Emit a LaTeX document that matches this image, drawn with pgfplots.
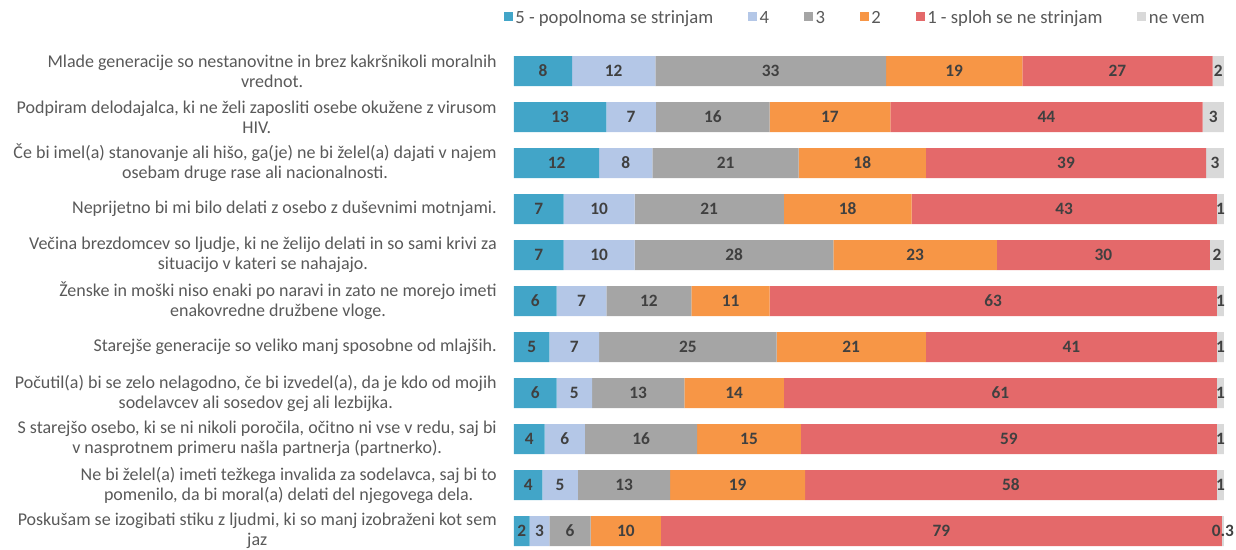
\documentclass[border=0pt]{standalone}
\usepackage{pgfplots}
\pgfplotsset{compat=1.18}
\usepackage{fontspec}
\setmainfont{Carlito}
\usetikzlibrary{calc}
\definecolor{c5}{RGB}{66,165,200}
\definecolor{c4}{RGB}{180,199,231}
\definecolor{c3}{RGB}{165,165,165}
\definecolor{c2}{RGB}{247,150,70}
\definecolor{c1}{RGB}{228,105,106}
\definecolor{c0}{RGB}{217,217,217}
\definecolor{txt}{RGB}{89,89,89}
\definecolor{lbl}{RGB}{64,64,64}
\begin{document}
\begin{tikzpicture}
\begin{axis}[name=ax,
  xbar stacked, scale only axis, width=532.5pt, height=379.5pt,
  xmin=0, xmax=100, ymin=-0.5, ymax=10.5, y dir=reverse,
  bar width=22.5pt,
  axis line style={draw=none}, xtick=\empty, ytick={0,1,...,10}, major tick length=0pt,
  yticklabels={
    {Mlade generacije so nestanovitne in brez kakršnikoli moralnih\\vrednot.},
    {Podpiram delodajalca, ki ne želi zaposliti osebe okužene z virusom\\HIV.},
    {Če bi imel(a) stanovanje ali hišo, ga(je) ne bi želel(a) dajati v najem\\osebam druge rase ali nacionalnosti.},
    {Neprijetno bi mi bilo delati z osebo z duševnimi motnjami.},
    {Večina brezdomcev so ljudje, ki ne želijo delati in so sami krivi za\\situacijo v kateri se nahajajo.},
    {Ženske in moški niso enaki po naravi in zato ne morejo imeti\\enakovredne družbene vloge.},
    {Starejše generacije so veliko manj sposobne od mlajših.},
    {Počutil(a) bi se zelo nelagodno, če bi izvedel(a), da je kdo od mojih\\sodelavcev ali sosedov gej ali lezbijka.},
    {S starejšo osebo, ki se ni nikoli poročila, očitno ni vse v redu, saj bi\\v nasprotnem primeru našla partnerja (partnerko).},
    {Ne bi želel(a) imeti težkega invalida za sodelavca, saj bi to\\pomenilo, da bi moral(a) delati del njegovega dela.},
    {Poskušam se izogibati stiku z ljudmi, ki so manj izobraženi kot sem\\jaz}
  },
  yticklabel style={align=center, font=\fontsize{13.5}{15}\selectfont, text=txt, inner sep=0pt, xshift=-12.75pt},
  point meta=explicit symbolic,
  nodes near coords,
  every node near coord/.append style={font=\bfseries\fontsize{13}{15}\selectfont, text=lbl},
  legend columns=6,
  legend style={draw=none, at={(0.481,1.056)}, anchor=center, font=\fontsize{14}{15}\selectfont, text=txt,
    nodes={text height=9.5pt, text depth=3pt},
    /tikz/every even column/.append style={column sep=24pt}},
  legend image code/.code={\fill[#1] (0pt,-1.2pt) rectangle (6.8pt,5.6pt);},
]
\addplot[fill=c5, draw=none] coordinates {(8.2,0) [8] (13,1) [13] (12,2) [12] (7,3) [7] (7,4) [7] (6,5) [6] (5,6) [5] (6,7) [6] (4.3,8) [4] (4,9) [4] (2.2,10) [2]};
\addlegendentry{5 - popolnoma se strinjam}
\addplot[fill=c4, draw=none] coordinates {(11.7,0) [12] (7,1) [7] (7.5,2) [8] (10,3) [10] (10,4) [10] (7,5) [7] (7,6) [7] (5,7) [5] (5.7,8) [6] (5,9) [5] (2.8,10) [3]};
\addlegendentry{4}
\addplot[fill=c3, draw=none] coordinates {(32.5,0) [33] (16,1) [16] (20.6,2) [21] (21,3) [21] (28,4) [28] (12,5) [12] (25,6) [25] (13,7) [13] (15.8,8) [16] (13,9) [13] (5.8,10) [6]};
\addlegendentry{3}
\addplot[fill=c2, draw=none] coordinates {(19.2,0) [19] (17,1) [17] (17.9,2) [18] (18,3) [18] (23,4) [23] (11,5) [11] (21,6) [21] (14,7) [14] (14.6,8) [15] (19,9) [19] (9.9,10) [10]};
\addlegendentry{2}
\addplot[fill=c1, draw=none] coordinates {(26.8,0) [27] (44,1) [44] (39.5,2) [39] (43,3) [43] (30,4) [30] (63,5) [63] (41,6) [41] (61,7) [61] (58.6,8) [59] (58,9) [58] (79,10) [79]};
\addlegendentry{1 - sploh se ne strinjam}
\addplot[fill=c0, draw=none] coordinates {(1.6,0) [2] (3,1) [3] (2.5,2) [3] (1,3) [1] (2,4) [2] (1,5) [1] (1,6) [1] (1,7) [1] (1,8) [1] (1,9) [1] (0.3,10) [0.3]};
\addlegendentry{ne vem}
\end{axis}
\pgfresetboundingbox
\path ($(ax.south west)+(-385.5pt,3pt)$) rectangle ($(ax.north east)+(9pt,36pt)$);
\end{tikzpicture}
\end{document}
